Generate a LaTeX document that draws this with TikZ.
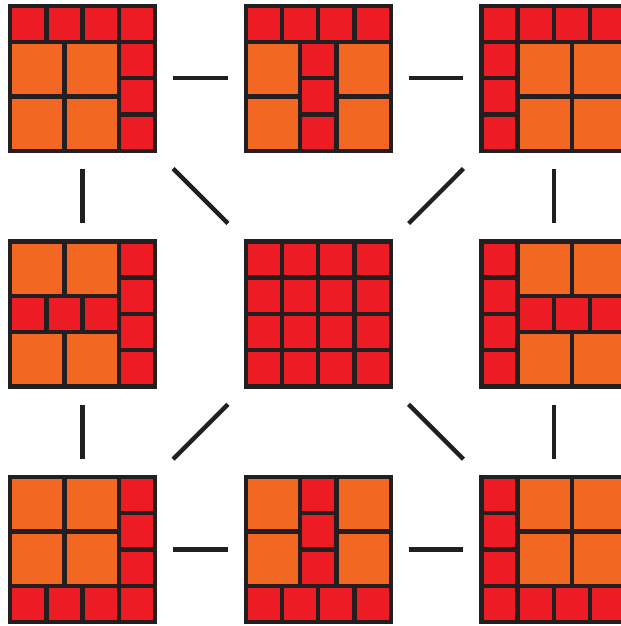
\documentclass[tikz,border=0pt]{standalone}
\usepackage{tikz}
\usetikzlibrary{positioning}
\definecolor{tilered}{HTML}{ED1C24}
\definecolor{tileorange}{HTML}{F26722}
\definecolor{tileline}{HTML}{231F20}

\begin{document}
\begin{tikzpicture}[x=1cm,y=-1cm,line width=3.4pt,
rs/.style={fill=tilered,draw=tileline},
os/.style={fill=tileorange,draw=tileline},
board/.style={minimum size=4cm,inner sep=0pt,outer sep=0pt},
link/.style={draw=tileline,shorten <=0.5cm,shorten >=0.5cm},
diag/.style={draw=tileline,shorten <=0.7cm,shorten >=0.7cm}]
\useasboundingbox (0,0) rectangle (17.13,17.27);
% top row
\begin{scope}[shift={(0.28,0.16)}]
\foreach \i in {0,...,3} \draw[rs](\i,0) rectangle ++(1,1);
\foreach \j in {1,2,3} \draw[rs](3,\j) rectangle ++(1,1);
\foreach \i in {0,1.5} \foreach \j in {1,2.5} \draw[os](\i,\j) rectangle ++(1.5,1.5);
\node[board] (tl) at (2,2) {};
\end{scope}
\begin{scope}[shift={(6.78,0.16)}]
\foreach \i in {0,...,3} \draw[rs](\i,0) rectangle ++(1,1);
\foreach \j in {1,2,3} \draw[rs](1.5,\j) rectangle ++(1,1);
\foreach \i in {0,2.5} \foreach \j in {1,2.5} \draw[os](\i,\j) rectangle ++(1.5,1.5);
\node[board] (tm) at (2,2) {};
\end{scope}
\begin{scope}[shift={(13.28,0.16)}]
\foreach \i in {0,...,3} \draw[rs](\i,0) rectangle ++(1,1);
\foreach \j in {1,2,3} \draw[rs](0,\j) rectangle ++(1,1);
\foreach \i in {1,2.5} \foreach \j in {1,2.5} \draw[os](\i,\j) rectangle ++(1.5,1.5);
\node[board] (tr) at (2,2) {};
\end{scope}
% middle row
\begin{scope}[shift={(0.28,6.66)}]
\foreach \j in {0,...,3} \draw[rs](3,\j) rectangle ++(1,1);
\foreach \i in {0,1.5} \foreach \j in {0,2.5} \draw[os](\i,\j) rectangle ++(1.5,1.5);
\foreach \i in {0,1,2} \draw[rs](\i,1.5) rectangle ++(1,1);
\node[board] (ml) at (2,2) {};
\end{scope}
\begin{scope}[shift={(6.78,6.66)}]
\foreach \i in {0,...,3} \foreach \j in {0,...,3} \draw[rs](\i,\j) rectangle ++(1,1);
\node[board] (c) at (2,2) {};
\end{scope}
\begin{scope}[shift={(13.28,6.66)}]
\foreach \j in {0,...,3} \draw[rs](0,\j) rectangle ++(1,1);
\foreach \i in {1,2.5} \foreach \j in {0,2.5} \draw[os](\i,\j) rectangle ++(1.5,1.5);
\foreach \i in {1,2,3} \draw[rs](\i,1.5) rectangle ++(1,1);
\node[board] (mr) at (2,2) {};
\end{scope}
% bottom row
\begin{scope}[shift={(0.28,13.16)}]
\foreach \i in {0,1.5} \foreach \j in {0,1.5} \draw[os](\i,\j) rectangle ++(1.5,1.5);
\foreach \j in {0,1,2} \draw[rs](3,\j) rectangle ++(1,1);
\foreach \i in {0,...,3} \draw[rs](\i,3) rectangle ++(1,1);
\node[board] (bl) at (2,2) {};
\end{scope}
\begin{scope}[shift={(6.78,13.16)}]
\foreach \i in {0,2.5} \foreach \j in {0,1.5} \draw[os](\i,\j) rectangle ++(1.5,1.5);
\foreach \j in {0,1,2} \draw[rs](1.5,\j) rectangle ++(1,1);
\foreach \i in {0,...,3} \draw[rs](\i,3) rectangle ++(1,1);
\node[board] (bm) at (2,2) {};
\end{scope}
\begin{scope}[shift={(13.28,13.16)}]
\foreach \j in {0,1,2} \draw[rs](0,\j) rectangle ++(1,1);
\foreach \i in {1,2.5} \foreach \j in {0,1.5} \draw[os](\i,\j) rectangle ++(1.5,1.5);
\foreach \i in {0,...,3} \draw[rs](\i,3) rectangle ++(1,1);
\node[board] (br) at (2,2) {};
\end{scope}
% moves
\draw[link](tl)--(tm);
\draw[link](tm)--(tr);
\draw[link](bl)--(bm);
\draw[link](bm)--(br);
\draw[link](tl)--(ml);
\draw[link](ml)--(bl);
\draw[link](tr)--(mr);
\draw[link](mr)--(br);
\draw[diag](tl)--(c);
\draw[diag](tr)--(c);
\draw[diag](bl)--(c);
\draw[diag](br)--(c);
\end{tikzpicture}
\end{document}
